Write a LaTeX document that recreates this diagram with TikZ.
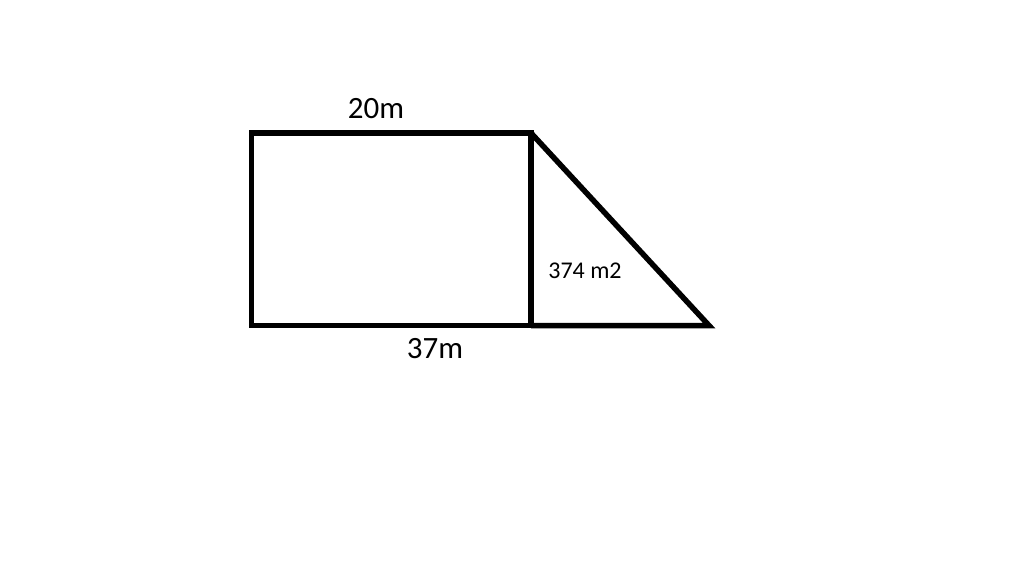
\documentclass[tikz,border=0pt]{standalone}
\usepackage{fontspec}
\setmainfont{Carlito}
\tikzset{
  biglabel/.style={font=\fontsize{31}{36}\selectfont, inner sep=0pt},
  arealabel/.style={font=\fontsize{24}{28}\selectfont, inner sep=0pt}
}
\begin{document}
\begin{tikzpicture}[x=1pt, y=-1pt, line width=5.5pt]
\useasboundingbox (0,0) rectangle (1024,575);
% Rectangle
    \draw (251.5,133) rectangle (531,325.5);
% Triangle
    \draw (531,133) -- (709,325.5) -- (531,325.5);
% Labels
    \node[biglabel] (width) at (376,109) {20m};
    \node[biglabel] (length) at (435,349) {37m};
    \node[arealabel] (area) at (585,271) {374 m2};
\end{tikzpicture}
\end{document}
